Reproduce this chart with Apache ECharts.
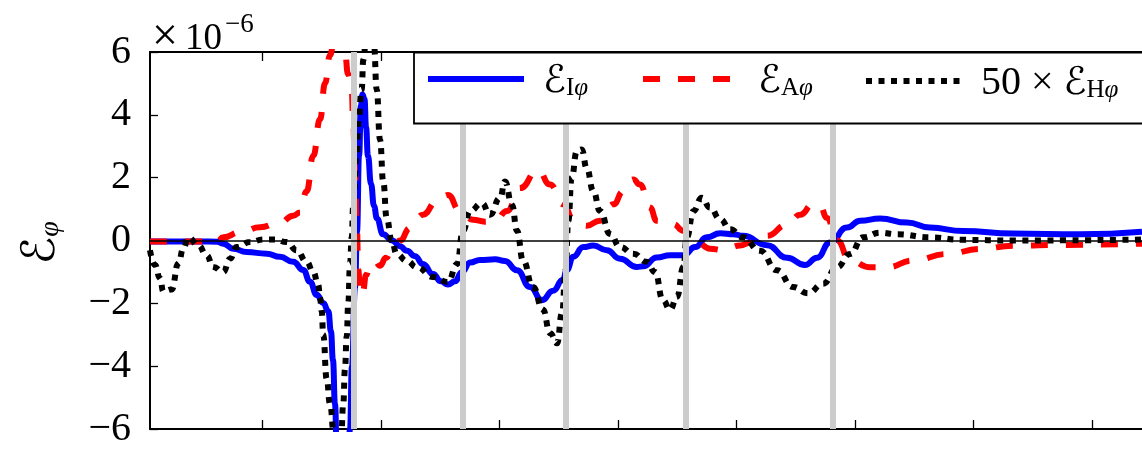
<!DOCTYPE html>
<html>
<head>
<meta charset="utf-8">
<script src="https://cdn.jsdelivr.net/npm/echarts@6/dist/echarts.min.js"></script>
<style>
  html, body { margin: 0; padding: 0; background: #fff; }
  #chart { width: 1142px; height: 449px; }
</style>
</head>
<body>
<div id="chart"></div>
<script>
// ---- data (x in tick units, y in units of 1e-6) ----
const xTicks = [1, 2, 3, 4, 5, 6, 7, 8];
const xMin = 0.053, xMax = 8.419;
const yTicks = [-6, -4, -2, 0, 2, 4, 6];
const guideX = [1.767, 2.687, 3.559, 4.571, 5.808];

const blueX = [0.053, 0.475, 0.620, 0.671, 0.755, 0.868, 1.037, 1.149, 1.261, 1.346, 1.402, 1.459, 1.514, 1.557, 1.579, 1.596, 1.613, 1.630, 1.655, 1.689, 1.714, 1.740, 1.756, 1.782, 1.799, 1.816, 1.832, 1.845, 1.862, 1.875, 1.891, 1.917, 1.942, 1.967, 2.018, 2.094, 2.161, 2.220, 2.288, 2.355, 2.440, 2.507, 2.566, 2.625, 2.684, 2.752, 2.836, 2.963, 3.047, 3.148, 3.258, 3.359, 3.452, 3.536, 3.567, 3.623, 3.707, 3.792, 3.905, 4.017, 4.158, 4.213, 4.326, 4.439, 4.551, 4.651, 4.748, 4.861, 4.972, 5.054, 5.257, 5.425, 5.577, 5.678, 5.789, 5.931, 6.042, 6.210, 6.437, 6.631, 6.910, 7.331, 7.896, 8.419];
const blueY = [-0.03, -0.03, -0.04, -0.1, -0.26, -0.37, -0.42, -0.52, -0.68, -0.94, -1.31, -1.73, -1.99, -2.25, -2.9, -3.8, -5.2, -7, -10, -12, -9, -6, -4, -1.5, 0.3, 2.7, 4.3, 4.65, 4.5, 3.6, 2.7, 1.8, 1.1, 0.7, 0.2, 0.0, -0.18, -0.33, -0.5, -0.75, -1.07, -1.3, -1.4, -1.3, -1.0, -0.7, -0.62, -0.6, -0.65, -0.95, -1.48, -1.9, -1.6, -1.25, -0.94, -0.52, -0.21, -0.16, -0.31, -0.58, -0.84, -0.82, -0.54, -0.47, -0.47, -0.21, 0.1, 0.23, 0.2, 0.15, -0.15, -0.55, -0.78, -0.55, -0.06, 0.41, 0.63, 0.7, 0.57, 0.41, 0.3, 0.22, 0.2, 0.28];

const redX = [0.053, 0.475, 0.620, 0.671, 0.812, 0.981, 1.149, 1.261, 1.318, 1.374, 1.430, 1.487, 1.529, 1.571, 1.613, 1.655, 1.697, 1.723, 1.754, 1.767, 1.782, 1.796, 1.810, 1.824, 1.849, 1.875, 1.908, 1.950, 1.993, 2.043, 2.094, 2.161, 2.246, 2.355, 2.473, 2.566, 2.667, 2.777, 2.878, 2.963, 3.064, 3.174, 3.325, 3.427, 3.539, 3.623, 3.736, 3.848, 3.961, 4.045, 4.129, 4.186, 4.270, 4.326, 4.467, 4.551, 4.663, 4.776, 4.888, 5.029, 5.114, 5.257, 5.425, 5.536, 5.644, 5.704, 5.762, 5.847, 5.957, 6.126, 6.268, 6.488, 6.775, 7.053, 7.331, 7.753, 8.419];
const redY = [-0.03, -0.03, -0.03, 0.1, 0.26, 0.42, 0.57, 0.79, 0.89, 1.57, 2.7, 3.86, 5.0, 5.9, 6.6, 6.8, 6.0, 5.3, 4.8, 3.75, 2.2, 0.62, -0.95, -1.75, -1.6, -1.1, -0.8, -0.65, -0.8, -0.55, -0.3, 0.0, 0.4, 0.82, 1.25, 1.45, 0.94, 0.66, 0.6, 0.63, 0.94, 1.67, 2.24, 1.78, 1.15, 0.68, 0.47, 0.63, 1.15, 1.57, 1.94, 1.78, 1.05, 0.63, 0.52, 0.31, -0.05, -0.26, -0.31, -0.16, -0.07, 0.15, 0.5, 0.82, 1.15, 1.1, 0.72, 0.0, -0.64, -0.85, -0.85, -0.64, -0.43, -0.27, -0.17, -0.14, -0.1];

const blackX = [0.053, 0.095, 0.137, 0.165, 0.236, 0.292, 0.334, 0.376, 0.460, 0.531, 0.587, 0.671, 0.728, 0.784, 0.896, 1.008, 1.107, 1.206, 1.290, 1.374, 1.430, 1.472, 1.487, 1.501, 1.514, 1.543, 1.571, 1.605, 1.638, 1.664, 1.683, 1.697, 1.712, 1.725, 1.740, 1.754, 1.767, 1.796, 1.810, 1.838, 1.852, 1.875, 1.908, 1.942, 1.965, 1.993, 2.020, 2.049, 2.091, 2.134, 2.218, 2.305, 2.440, 2.566, 2.642, 2.693, 2.752, 2.853, 2.920, 3.005, 3.047, 3.106, 3.148, 3.199, 3.283, 3.367, 3.427, 3.486, 3.528, 3.558, 3.581, 3.609, 3.652, 3.694, 3.736, 3.792, 3.848, 3.933, 4.017, 4.129, 4.242, 4.312, 4.379, 4.439, 4.498, 4.551, 4.580, 4.636, 4.706, 4.776, 4.861, 4.945, 5.054, 5.198, 5.341, 5.476, 5.602, 5.729, 5.847, 5.957, 6.066, 6.210, 6.353, 6.631, 6.910, 7.331, 8.419];
const blackY = [-0.31, -0.78, -1.2, -1.62, -1.56, -0.73, -0.26, 0.1, -0.15, -0.47, -0.84, -1.0, -0.58, -0.21, -0.05, 0.03, 0.03, -0.05, -0.31, -0.68, -1.0, -1.41, -1.83, -2.25, -3.0, -4.4, -5.2, -6.2, -6.6, -6.3, -5.2, -4.1, -3.05, -2.0, -0.75, 0.1, 1.13, 2.7, 3.75, 4.8, 5.75, 6.4, 6.6, 6.2, 4.8, 3.2, 1.88, 0.72, 0.0, -0.43, -0.65, -0.85, -1.16, -1.32, -0.75, 0.31, 0.94, 1.19, 0.82, 1.35, 1.88, 1.13, 0.31, -0.64, -1.48, -2.2, -2.95, -3.27, -2.3, -0.94, 0.63, 2.0, 2.83, 2.9, 2.3, 1.57, 0.94, 0.21, -0.21, -0.42, -0.68, -1.0, -1.9, -2.2, -1.79, -0.84, 0.1, 0.94, 1.36, 1.05, 0.68, 0.36, 0.1, -0.33, -0.95, -1.48, -1.68, -1.38, -0.85, -0.43, 0.1, 0.25, 0.2, 0.1, 0.02, 0.0, 0.03];

const seriesNames = ['I', 'A', 'H'];
const legendLabels = {
  I: '{e|ℰ}{s|I}{p|φ}',
  A: '{e|ℰ}{s|A}{p|φ}',
  H: '{n|50 × }{e|ℰ}{s|H}{p|φ}'
};

// ---- helpers / styles ----
const zip = (xs, ys) => xs.map((x, i) => [x, ys[i]]);
const SERIF = '"Liberation Serif", "DejaVu Serif", serif';
const CAL = '"DejaVu Serif", "DejaVu Sans", serif';
const rich = {
  e: { fontFamily: CAL, fontSize: 38, lineHeight: 44, verticalAlign: 'bottom', color: '#000' },
  s: { fontFamily: SERIF, fontSize: 25, lineHeight: 24, verticalAlign: 'bottom', color: '#000' },
  p: { fontFamily: SERIF, fontSize: 25, fontStyle: 'italic', lineHeight: 24, verticalAlign: 'bottom', color: '#000' },
  n: { fontFamily: SERIF, fontSize: 40, lineHeight: 44, verticalAlign: 'bottom', color: '#000' }
};
const legendPos = [425, 640, 863];
const styles = {
  I: { color: '#0000ff', width: 6, type: 'solid' },
  A: { color: '#ff0000', width: 6, type: [17, 18] },
  H: { color: '#000000', width: 6, type: [6, 6.5] }
};

const chart = echarts.init(document.getElementById('chart'), null, { renderer: 'canvas' });

const lineBase = {
  type: 'line', showSymbol: false, symbol: 'none', clip: true,
  smooth: 0.5, smoothMonotone: 'x', animation: false, z: 3
};

chart.setOption({
  animation: false,
  backgroundColor: '#fff',
  grid: { left: 150, right: 0, top: 52, bottom: 15, containLabel: false },
  xAxis: [{
    type: 'value', min: xMin, max: xMax, position: 'bottom',
    axisLine: { show: true, onZero: false, lineStyle: { color: '#000', width: 2 } },
    axisTick: { show: true, inside: true, length: 9, customValues: xTicks, lineStyle: { color: '#000', width: 1.3 } },
    axisLabel: { show: false },
    splitLine: { show: false }
  }, {
    type: 'value', min: xMin, max: xMax, position: 'top',
    axisLine: { show: true, onZero: false, lineStyle: { color: '#000', width: 2 } },
    axisTick: { show: true, inside: true, length: 9, customValues: xTicks, lineStyle: { color: '#000', width: 1.3 } },
    axisLabel: { show: false },
    splitLine: { show: false }
  }],
  yAxis: {
    type: 'value', min: -6, max: 6, interval: 2,
    axisLine: { show: true, onZero: false, lineStyle: { color: '#000', width: 2 } },
    axisTick: { show: true, inside: true, length: 8, lineStyle: { color: '#000', width: 1.3 } },
    axisLabel: {
      show: true, margin: 19, color: '#000', fontFamily: SERIF, fontSize: 40,
      customValues: yTicks,
      formatter: v => (v < 0 ? '\u2212' + Math.abs(v) : String(v))
    },
    splitLine: { show: false }
  },
  legend: seriesNames.map((n, i) => ({
    data: [n], left: legendPos[i], top: 63, padding: 0, z: 20,
    itemWidth: 96, itemHeight: 14, itemGap: 0,
    itemStyle: { opacity: 0 },
    lineStyle: { color: styles[n].color, width: styles[n].width, type: styles[n].type, cap: 'butt', opacity: 1 },
    formatter: name => legendLabels[name],
    textStyle: { padding: [0, 0, 0, 14], rich: rich },
    selectedMode: false
  })),
  graphic: [
    { type: 'rect', z: 10, shape: { x: 414, y: 52.5, width: 760, height: 71 },
      style: { fill: '#fff', stroke: '#000', lineWidth: 1.8 } },
    { type: 'text', z: 10, x: 152, y: 38,
      style: { text: '×', font: '46px "Liberation Serif", serif', fill: '#000', verticalAlign: 'middle' } },
    { type: 'text', z: 10, x: 185, y: 39,
      style: { text: '10', font: '37px "Liberation Serif", serif', fill: '#000', verticalAlign: 'middle' } },
    { type: 'text', z: 10, x: 225, y: 25,
      style: { text: '\u22126', font: '27px "Liberation Serif", serif', fill: '#000', verticalAlign: 'middle' } },
    { type: 'text', z: 10, x: 40, y: 243, rotation: Math.PI / 2,
      style: { text: '{e|ℰ}{s|φ}', align: 'center', verticalAlign: 'middle',
        rich: {
          e: { fontFamily: CAL, fontSize: 46, lineHeight: 50, verticalAlign: 'bottom', fill: '#000' },
          s: { fontFamily: SERIF, fontSize: 28, fontStyle: 'italic', lineHeight: 26, verticalAlign: 'bottom', fill: '#000' }
        } } }
  ],
  series: [
    {
      name: 'guides', type: 'line', data: [], z: 1, silent: true, animation: false,
      markLine: {
        silent: true, symbol: 'none', animation: false,
        label: { show: false },
        lineStyle: { color: '#cccccc', width: 6, type: 'solid' },
        emphasis: { disabled: true },
        data: guideX.map(v => ({ xAxis: v }))
      }
    },
    {
      name: 'zero', type: 'line', data: [], z: 2, silent: true, animation: false,
      markLine: {
        silent: true, symbol: 'none', animation: false,
        label: { show: false },
        lineStyle: { color: '#000', width: 1.5, type: 'solid' },
        emphasis: { disabled: true },
        data: [{ yAxis: 0 }]
      }
    },
    Object.assign({}, lineBase, {
      name: 'I', data: zip(blueX, blueY),
      lineStyle: Object.assign({ cap: 'butt' }, styles.I), itemStyle: { color: styles.I.color }
    }),
    Object.assign({}, lineBase, {
      name: 'A', data: zip(redX, redY),
      lineStyle: Object.assign({ cap: 'butt' }, styles.A), itemStyle: { color: styles.A.color }
    }),
    Object.assign({}, lineBase, {
      name: 'H', data: zip(blackX, blackY),
      lineStyle: Object.assign({ cap: 'butt' }, styles.H), itemStyle: { color: styles.H.color }
    })
  ]
});
</script>
</body>
</html>
